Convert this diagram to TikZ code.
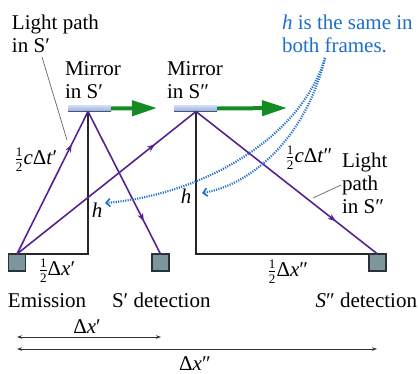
\documentclass[tikz,border=0pt]{standalone}
\usepackage{fontspec}
\setmainfont{Liberation Serif}
\newfontfamily\timesfont{Liberation Serif}
\usetikzlibrary{arrows.meta,decorations.markings}
\definecolor{lpurple}{RGB}{85,35,145}
\definecolor{lgreen}{RGB}{20,140,35}
\definecolor{lblue}{RGB}{30,110,205}
\definecolor{boxfill}{RGB}{125,150,155}
\definecolor{boxline}{RGB}{40,50,55}
\definecolor{mirtop}{RGB}{205,220,248}
\definecolor{mirbot}{RGB}{150,170,222}
\newcommand\myhalf{\ensuremath{\frac{\mbox{\timesfont\fontsize{13}{13}\selectfont 1}}{\mbox{\timesfont\fontsize{13}{13}\selectfont 2}}}}
\begin{document}
\begin{tikzpicture}[x=1pt,y=-1pt,
  font=\timesfont\fontsize{21}{23}\selectfont,
  every node/.style={inner sep=0pt,outer sep=0pt},
  lbl/.style={align=left,anchor=north west},
  devbox/.style={draw=boxline,fill=boxfill,line width=1.2pt,minimum size=17pt},
  mirrorbar/.style={minimum width=43pt,minimum height=6pt,top color=mirtop,bottom color=mirbot,draw=none},
  greenarrow/.style={lgreen,line width=4pt,-{Triangle[length=25pt,width=15pt]}},
  frame/.style={black!85,line width=1.5pt},
  lightpath/.style={lpurple,line width=1.6pt,
    postaction={decorate},
    decoration={markings,mark=at position 0.77 with {\arrow{Stealth[length=8pt,width=6pt]}}}},
  leader/.style={black!60,line width=0.7pt},
  hdot/.style={lblue,line width=2.2pt,dash pattern=on 1.1pt off 1.3pt,
    -{Straight Barb[length=4pt,width=8pt,line width=1.6pt]}},
  dimarrow/.style={black!80,line width=0.8pt,{Stealth[length=5pt,width=3.5pt]}-{Stealth[length=5pt,width=3.5pt]}}
]
\useasboundingbox (0,0) rectangle (419,373);
\fill[white] (0,0) rectangle (419,373);

% boxes
\node[devbox] (emit) at (17,262.5) {};
\node[devbox] (det1) at (160.5,262.5) {};
\node[devbox] (det2) at (377.5,262.5) {};

% mirrors
\node[mirrorbar] (mir1) at (89.5,108.5) {};
\node[mirrorbar] (mir2) at (195.5,108.5) {};
\draw[mirbot!50!black,line width=0.8pt] (mir1.south west) -- (mir1.south east);
\draw[mirbot!50!black,line width=0.8pt] (mir2.south west) -- (mir2.south east);

\coordinate (M1) at (88,111.5);
\coordinate (M2) at (196,111.5);
\coordinate (F1) at (88,254);
\coordinate (F2) at (196,254);

% green arrows
\coordinate (g1) at (157,108);
\coordinate (g2) at (287,108);
\draw[greenarrow] (mir1.east) -- (g1);
\draw[greenarrow] (mir2.east) -- (g2);

% frames (triangles)
\draw[frame] (M1) -- (F1) -- (emit.north east);
\draw[frame] (M2) -- (F2) -- (det2.north west);

% light paths
\draw[lightpath] (emit.north) -- (M1);
\draw[lightpath] (M1) -- (det1.north);
\draw[lightpath] (emit.north) -- (M2);
\draw[lightpath] (M2) -- (det2.north);

% labels
\node[lbl] (lp1) at (12,15) {Light path\\in S′};
\node[lbl] (mt1) at (65,62) {Mirror\\in S′};
\node[lbl] (mt2) at (167,62) {Mirror\\in S″};
\node[lbl] (lp2) at (342,153) {Light\\path\\in S″};
\node[lbl,lblue] (hs) at (282,15) {\textit{h} is the same in\\both frames.};

\coordinate (l1a) at (42,57);
\coordinate (l1b) at (67,140);
\draw[leader] (l1a) -- (l1b);
\coordinate (l2a) at (341,185);
\coordinate (l2b) at (313,198);
\draw[leader] (l2a) -- (l2b);

\node (ct1) at (36,160) {\myhalf\textit{c}Δ\textit{t}′};
\node (ct2) at (309,158) {\myhalf\textit{c}Δ\textit{t}″};
\node (hx1) at (57,271) {\myhalf Δ\textit{x}′};
\node (hx2) at (288,272) {\myhalf Δ\textit{x}″};
\node (h1) at (97,210) {\textit{h}};
\node (h2) at (186,196) {\textit{h}};

\node[anchor=base west] (em) at (8,307) {Emission};
\node[anchor=base west] (sd1) at (112,307) {S′ detection};
\node[anchor=base east] (sd2) at (417,307) {\textit{S}″ detection};

% dotted arrows
\coordinate (hst) at (325,58);
\coordinate (ha1) at (105,203);
\coordinate (ha2) at (202,193);
\draw[hdot] (hst) .. controls (300,140) and (200,195) .. (ha1);
\draw[hdot] (hst) .. controls (305,140) and (250,185) .. (ha2);

% dimension arrows
\coordinate (d1l) at (17,337);
\coordinate (d1r) at (161,337);
\coordinate (d2l) at (17,349);
\coordinate (d2r) at (377,349);
\draw[dimarrow] (d1l) -- (d1r);
\draw[dimarrow] (d2l) -- (d2r);
\node[anchor=base] (dx1) at (87,333) {Δ\textit{x}′};
\node[anchor=base] (dx2) at (195,370) {Δ\textit{x}″};
\end{tikzpicture}
\end{document}
